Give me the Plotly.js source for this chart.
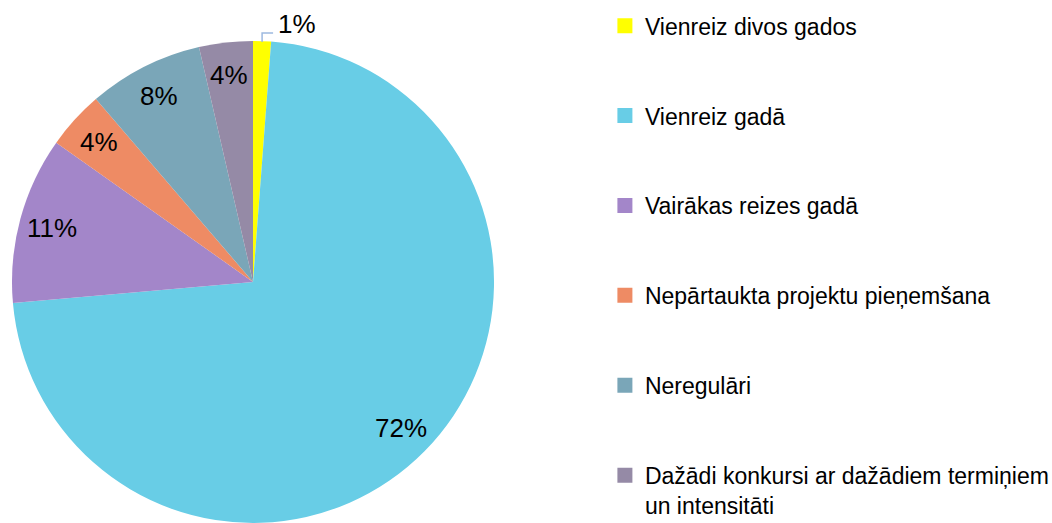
<!DOCTYPE html>
<html>
<head>
<meta charset="utf-8">
<script src="https://cdn.plot.ly/plotly-3.0.1.min.js"></script>
<style>html,body{margin:0;padding:0;background:#fff}#chart{width:1052px;height:523px}</style>
</head>
<body>
<div id="chart"></div>
<script>
const categories = [
  "Vienreiz divos gados",
  "Vienreiz gadā",
  "Vairākas reizes gadā",
  "Nepārtaukta projektu pieņemšana",
  "Neregulāri",
  "Dažādi konkursi ar dažādiem termiņiem<br>un intensitāti"
];
const values = [1.2, 72.4, 11.2, 3.9, 7.7, 3.6];
const colors = ["#FFFF00", "#68CDE6", "#A386C9", "#EE8B64", "#7AA6B8", "#958AA6"];

const W = 1052, H = 523;
const font = "Liberation Sans, Arial, sans-serif";
const labelFont = "Liberation Sans, Arial, sans-serif";
const dom = {x: [0.0114, 0.4696], y: [0, 0.922]};

const pie = {
  type: "pie",
  labels: categories,
  values: values,
  sort: false,
  direction: "clockwise",
  rotation: 0,
  marker: {colors: colors, line: {width: 0}},
  textinfo: "none",
  domain: dom,
  showlegend: false,
  hoverinfo: "label+percent",
  automargin: false
};

const legendTraces = categories.map((c, i) => ({
  type: "scatter",
  mode: "markers",
  x: [null], y: [null],
  name: c,
  legendgroup: "g" + i,
  marker: {symbol: "square", size: 15, color: colors[i]},
  showlegend: true,
  hoverinfo: "skip"
}));

// percentage labels placed from the data (mid-angle of each slice)
const total = values.reduce((a, b) => a + b, 0);
const cxPx = (dom.x[0] + dom.x[1]) / 2 * W;
const cyPx = (1 - (dom.y[0] + dom.y[1]) / 2) * H;
const R = Math.min((dom.x[1] - dom.x[0]) * W, (dom.y[1] - dom.y[0]) * H) / 2;
const annotations = [];
const shapes = [];
let cum = 0;
values.forEach((v, i) => {
  const mid = (cum + v / 2) / total * 2 * Math.PI;
  cum += v;
  const txt = Math.round(v / total * 100) + "%";
  if (v / total < 0.02) {
    // outside label with elbow leader line
    const ex = cxPx + R * Math.sin(mid), ey = cyPx - R * Math.cos(mid);
    shapes.push({
      type: "path", xref: "paper", yref: "paper",
      path: `M ${ex / W} ${1 - (ey + 1) / H} L ${ex / W} ${1 - (ey - 8) / H} L ${(ex + 11) / W} ${1 - (ey - 8) / H}`,
      line: {color: "#9DB9E0", width: 1.5}
    });
    annotations.push({
      xref: "paper", yref: "paper", x: (ex + 14) / W, y: 1 - (ey - 17) / H,
      xanchor: "left", yanchor: "middle", text: txt, showarrow: false,
      font: {family: labelFont, size: 26, color: "#000"}
    });
  } else {
    const r = 0.865 * R;
    const px = cxPx + r * Math.sin(mid), py = cyPx - r * Math.cos(mid);
    annotations.push({
      xref: "paper", yref: "paper", x: px / W, y: 1 - py / H,
      xanchor: "center", yanchor: "middle", text: txt, showarrow: false,
      font: {family: labelFont, size: 26, color: "#000"}
    });
  }
});

const layout = {
  width: W, height: H,
  margin: {l: 0, r: 0, t: 0, b: 0, autoexpand: false},
  paper_bgcolor: "#fff",
  plot_bgcolor: "rgba(0,0,0,0)",
  showlegend: true,
  xaxis: {visible: false, domain: [0.6, 0.61]},
  yaxis: {visible: false, domain: [0.6, 0.61]},
  annotations: annotations,
  shapes: shapes,
  legend: {
    x: 0.575, y: 0.992, xanchor: "left", yanchor: "top",
    font: {family: font, size: 23, color: "#000"},
    tracegroupgap: 57,
    itemwidth: 30,
    valign: "top",
    bgcolor: "rgba(0,0,0,0)"
  }
};

Plotly.newPlot("chart", [pie].concat(legendTraces), layout, {displayModeBar: false, staticPlot: true});
</script>
</body>
</html>
